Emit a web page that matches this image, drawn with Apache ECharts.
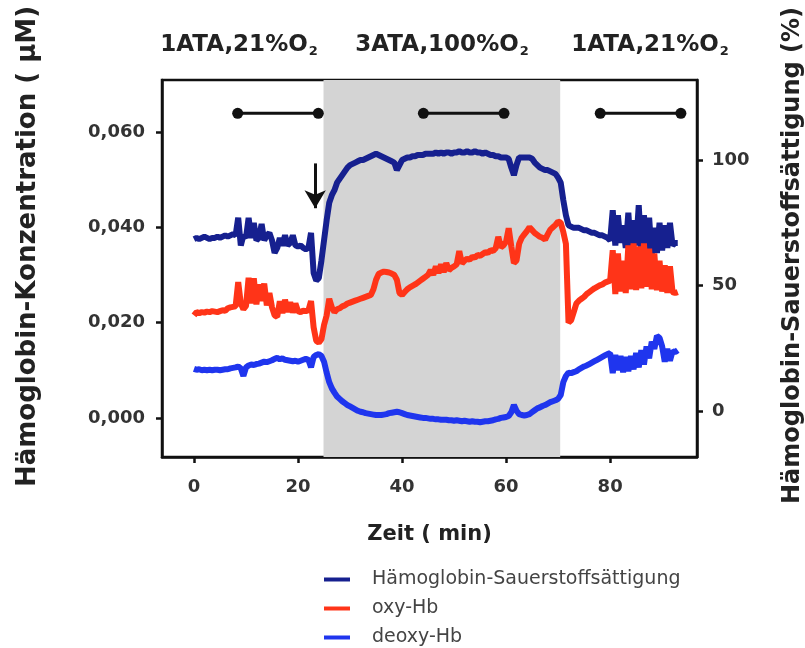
<!DOCTYPE html>
<html>
<head>
<meta charset="utf-8">
<script src="https://cdn.jsdelivr.net/npm/echarts@6/dist/echarts.min.js"></script>
<style>
html,body{margin:0;padding:0;background:#fff}
#chart{width:805px;height:648px}
</style>
</head>
<body>
<div id="chart"></div>
<script>
// Zeitachse (min), alle 0,5 min
var times = [
  0,0.5,1,1.5,2,2.5,3,3.5,4,4.5,
  5,5.5,6,6.5,7,7.5,8,8.5,9,9.5,
  10,10.5,11,11.5,12,12.5,13,13.5,14,14.5,
  15,15.5,16,16.5,17,17.5,18,18.5,19,19.5,
  20,20.5,21,21.5,22,22.5,23,23.5,24,24.5,
  25,25.5,26,26.5,27,27.5,28,28.5,29,29.5,
  30,30.5,31,31.5,32,32.5,33,33.5,34,34.5,
  35,35.5,36,36.5,37,37.5,38,38.5,39,39.5,
  40,40.5,41,41.5,42,42.5,43,43.5,44,44.5,
  45,45.5,46,46.5,47,47.5,48,48.5,49,49.5,
  50,50.5,51,51.5,52,52.5,53,53.5,54,54.5,
  55,55.5,56,56.5,57,57.5,58,58.5,59,59.5,
  60,60.5,61,61.5,62,62.5,63,63.5,64,64.5,
  65,65.5,66,66.5,67,67.5,68,68.5,69,69.5,
  70,70.5,71,71.5,72,72.5,73,73.5,74,74.5,
  75,75.5,76,76.5,77,77.5,78,78.5,79,79.5,
  80,80.5,81,81.5,82,82.5,83,83.5,84,84.5,
  85,85.5,86,86.5,87,87.5,88,88.5,89,89.5,
  90,90.5,91,91.5,92,92.5,93
];

// Hämoglobin-Sauerstoffsättigung (%)
var saettigung = [
  68.5,69,68.5,69,69.5,69,68.5,69,69,69.5,
  69,69.5,70,69.5,70,70.5,70,77,66,70,
  69,77,69,75,68,69,74.5,68,70,71,
  68,63,65,69,66,70,66,67,70,66,
  65.5,66,65,64.5,65,71,55,52,53,60,
  68,76,83,86,88,91,92.5,94,95.5,97,
  98,98.5,99,99.5,100,100,100.5,101,101.5,102,
  102.5,102,101.5,101,100.5,100,99.5,99,96,98,
  100,100.5,101,101,101.5,101.5,102,102,102,102.5,
  102.5,102.5,102.5,103,102.5,103,102.5,103,103,102.5,
  103,103,103.5,103,103,103.5,103,103,103.5,103,
  103,102.5,103,102.5,102,102,101.5,101.5,101,101,
  101,100.5,97,94,98,101,101,101,101,101,
  100.5,99,98,97,96.5,96,96,95.5,95,94.5,
  93,91,84,78,74,73.5,73,73,73,72.5,
  72,72,71.5,71,71,70.5,70,70,69.5,69,
  68,80,66,78,67,74,65,79,64,76,
  66,82,63,78,64,77,62,73,63,75,
  64,74,65,75,66,67,67
];

// oxy-Hb (µM)
var oxyHb = [
  0.0215,0.0222,0.0220,0.0222,0.0221,0.0223,0.0222,0.0224,0.0223,0.0222,
  0.0224,0.0226,0.0225,0.0230,0.0232,0.0233,0.0234,0.0285,0.0240,0.0228,
  0.0235,0.0294,0.0240,0.0293,0.0238,0.0280,0.0245,0.0282,0.0236,0.0262,
  0.0232,0.0215,0.0212,0.0245,0.0220,0.0248,0.0222,0.0243,0.0221,0.0240,
  0.0224,0.0222,0.0225,0.0224,0.0226,0.0245,0.0190,0.0162,0.0158,0.0165,
  0.0195,0.0215,0.0250,0.0232,0.0222,0.0228,0.0230,0.0234,0.0236,0.0240,
  0.0242,0.0244,0.0246,0.0248,0.0250,0.0252,0.0254,0.0256,0.0258,0.0270,
  0.0290,0.0302,0.0305,0.0307,0.0306,0.0305,0.0303,0.0300,0.0290,0.0262,
  0.0258,0.0264,0.0270,0.0274,0.0277,0.0280,0.0284,0.0288,0.0292,0.0296,
  0.0300,0.0310,0.0300,0.0318,0.0304,0.0322,0.0306,0.0325,0.0310,0.0315,
  0.0318,0.0322,0.0350,0.0324,0.0330,0.0334,0.0332,0.0338,0.0336,0.0342,
  0.0340,0.0344,0.0348,0.0346,0.0352,0.0350,0.0356,0.0380,0.0358,0.0362,
  0.0370,0.0398,0.0360,0.0325,0.0330,0.0365,0.0378,0.0385,0.0392,0.0400,
  0.0394,0.0388,0.0384,0.0380,0.0378,0.0374,0.0385,0.0395,0.0400,0.0405,
  0.0412,0.0410,0.0390,0.0365,0.0200,0.0205,0.0222,0.0240,0.0246,0.0250,
  0.0254,0.0260,0.0264,0.0268,0.0272,0.0275,0.0278,0.0280,0.0284,0.0286,
  0.0288,0.0352,0.0260,0.0345,0.0265,0.0330,0.0262,0.0362,0.0270,0.0366,
  0.0268,0.0360,0.0272,0.0366,0.0275,0.0355,0.0270,0.0345,0.0268,0.0330,
  0.0265,0.0320,0.0262,0.0318,0.0264,0.0262,0.0264
];

// deoxy-Hb (µM)
var deoxyHb = [
  0.0103,0.0101,0.0102,0.0100,0.0101,0.0100,0.0101,0.0100,0.0101,0.0101,
  0.0100,0.0101,0.0102,0.0102,0.0104,0.0105,0.0106,0.0108,0.0104,0.0088,
  0.0106,0.0110,0.0112,0.0111,0.0113,0.0114,0.0116,0.0118,0.0117,0.0119,
  0.0121,0.0124,0.0126,0.0123,0.0125,0.0122,0.0121,0.0120,0.0119,0.0120,
  0.0118,0.0120,0.0122,0.0124,0.0122,0.0106,0.0128,0.0132,0.0134,0.0130,
  0.0118,0.0095,0.0075,0.0062,0.0053,0.0045,0.0040,0.0035,0.0031,0.0027,
  0.0024,0.0021,0.0018,0.0015,0.0013,0.0012,0.0010,0.0009,0.0008,0.0007,
  0.0006,0.0006,0.0006,0.0007,0.0008,0.0010,0.0011,0.0012,0.0013,0.0012,
  0.0010,0.0008,0.0006,0.0005,0.0004,0.0003,0.0002,0.0001,0.0000,0.0000,
  -0.0001,-0.0002,-0.0002,-0.0003,-0.0003,-0.0004,-0.0004,-0.0004,-0.0005,-0.0005,
  -0.0006,-0.0005,-0.0006,-0.0007,-0.0006,-0.0007,-0.0008,-0.0007,-0.0008,-0.0008,
  -0.0009,-0.0008,-0.0007,-0.0007,-0.0006,-0.0005,-0.0003,-0.0002,0.0000,0.0001,
  0.0002,0.0004,0.0012,0.0027,0.0015,0.0008,0.0006,0.0005,0.0006,0.0008,
  0.0012,0.0016,0.0020,0.0022,0.0025,0.0027,0.0030,0.0033,0.0035,0.0037,
  0.0040,0.0048,0.0075,0.0088,0.0095,0.0094,0.0096,0.0098,0.0102,0.0105,
  0.0108,0.0110,0.0113,0.0116,0.0119,0.0122,0.0125,0.0128,0.0131,0.0134,
  0.0136,0.0094,0.0132,0.0100,0.0130,0.0096,0.0128,0.0098,0.0130,0.0102,
  0.0136,0.0106,0.0142,0.0112,0.0150,0.0125,0.0160,0.0145,0.0172,0.0168,
  0.0150,0.0118,0.0145,0.0120,0.0140,0.0138,0.0142
];

// Messintervalle (Hantel-Markierungen oben)
var messStart = [8.4, 44.1, 78.1];
var messEnde = [23.9, 59.6, 93.6];
var messHoehe = 0.0639;

// grau hinterlegte Phase 3ATA
var phaseStart = 24.9;
var phaseEnde = 70.4;

// Pfeil
var pfeilX = 23.3;
var pfeilOben = 0.0534;
var pfeilSpitze = 0.0440;

var phasen = ['1ATA,21%O', '3ATA,100%O', '1ATA,21%O'];
var phasenMitte = [234, 437, 645];

var xTicks = [0, 20, 40, 60, 80];
var yTicksLinks = [0, 0.02, 0.04, 0.06];
var yTicksRechts = [0, 50, 100];

var serienNamen = ['Hämoglobin-Sauerstoffsättigung', 'oxy-Hb', 'deoxy-Hb'];
var farben = ['#16208f', '#ff3418', '#1f35ee'];

var font = 'DejaVu Sans';

function paare(ys) {
  var arr = [];
  for (var i = 0; i < times.length; i++) {
    arr.push([times[i], ys[i]]);
  }
  return arr;
}

var hantelDaten = [];
for (var i = 0; i < messStart.length; i++) {
  hantelDaten.push([messStart[i], messHoehe]);
  hantelDaten.push([messEnde[i], messHoehe]);
  if (i < messStart.length - 1) hantelDaten.push('-');
}

var titel = [];
for (var i = 0; i < phasen.length; i++) {
  titel.push({
    text: phasen[i] + '{s|2}',
    left: phasenMitte[i],
    top: 27,
    textAlign: 'center',
    textStyle: {
      fontFamily: font,
      fontSize: 23,
      fontWeight: 'bold',
      color: '#222',
      rich: {
        s: { fontFamily: font, fontSize: 13, fontWeight: 'bold', color: '#222', padding: [13, 0, 0, 1] }
      }
    }
  });
}

var achsenLinie = { show: true, onZero: false, lineStyle: { color: '#111', width: 2.5 } };

var chart = echarts.init(document.getElementById('chart'));
var option = {
  animation: false,
  backgroundColor: '#fff',
  title: titel,
  legend: {
    data: serienNamen,
    orient: 'vertical',
    left: 324,
    top: 570,
    padding: 0,
    icon: 'rect',
    itemWidth: 26,
    itemHeight: 4,
    itemGap: 10,
    textStyle: { fontFamily: font, fontSize: 19, color: '#444', padding: [0, 0, 0, 17] }
  },
  grid: {
    left: 162, right: 108, top: 80, bottom: 191,
    outerBoundsMode: 'none',
    show: true, borderColor: '#111', borderWidth: 2.5
  },
  xAxis: {
    type: 'value',
    min: -6.15,
    max: 96.7,
    axisLine: achsenLinie,
    axisTick: { show: true, customValues: xTicks, length: 6, lineStyle: { color: '#111', width: 2.5 } },
    axisLabel: { customValues: xTicks, fontFamily: font, fontSize: 18, fontWeight: 'bold', color: '#333', margin: 21 },
    splitLine: { show: false },
    name: 'Zeit ( min)',
    nameLocation: 'middle',
    nameGap: 67,
    nameTextStyle: { fontFamily: font, fontSize: 21, fontWeight: 'bold', color: '#222' }
  },
  yAxis: [{
    type: 'value',
    position: 'left',
    min: -0.0082,
    max: 0.0709,
    axisLine: achsenLinie,
    axisTick: { show: true, customValues: yTicksLinks, length: 6, lineStyle: { color: '#111', width: 2.5 } },
    axisLabel: {
      customValues: yTicksLinks, fontFamily: font, fontSize: 18, fontWeight: 'bold', color: '#333', margin: 17,
      formatter: function (v) { return v.toFixed(3).replace('.', ','); }
    },
    splitLine: { show: false },
    name: 'Hämoglobin-Konzentration ( μM)',
    nameLocation: 'middle',
    nameRotate: 90,
    nameGap: 121,
    nameTextStyle: { fontFamily: font, fontSize: 26, fontWeight: 'bold', color: '#222', padding: [0, 0, 0, 44] }
  }, {
    type: 'value',
    position: 'right',
    min: -18.3,
    max: 131.9,
    axisLine: achsenLinie,
    axisTick: { show: true, customValues: yTicksRechts, length: 6, lineStyle: { color: '#111', width: 2.5 } },
    axisLabel: { customValues: yTicksRechts, fontFamily: font, fontSize: 18, fontWeight: 'bold', color: '#333', margin: 15 },
    splitLine: { show: false },
    name: 'Hämoglobin-Sauerstoffsättigung (%)',
    nameLocation: 'middle',
    nameRotate: 90,
    nameGap: 84,
    nameTextStyle: { fontFamily: font, fontSize: 24, fontWeight: 'bold', color: '#222', padding: [0, 0, 0, 26] }
  }],
  series: [{
    name: 'Messintervall',
    type: 'line',
    yAxisIndex: 0,
    data: hantelDaten,
    symbol: 'circle',
    symbolSize: 11,
    itemStyle: { color: '#111' },
    lineStyle: { color: '#111', width: 3 },
    silent: true,
    z: 1,
    markArea: {
      silent: true,
      itemStyle: { color: '#d4d4d4', opacity: 1 },
      data: [[{ xAxis: phaseStart }, { xAxis: phaseEnde }]]
    },
    markLine: {
      silent: true,
      symbol: ['none', 'arrow'],
      symbolSize: [16, 18],
      label: { show: false },
      lineStyle: { color: '#111', width: 3, type: 'solid' },
      data: [[{ coord: [pfeilX, pfeilOben] }, { coord: [pfeilX, pfeilSpitze] }]]
    }
  }, {
    name: serienNamen[0],
    type: 'line',
    yAxisIndex: 1,
    data: paare(saettigung),
    showSymbol: false,
    color: farben[0],
    lineStyle: { width: 6, color: farben[0] },
    z: 3
  }, {
    name: serienNamen[1],
    type: 'line',
    yAxisIndex: 0,
    data: paare(oxyHb),
    showSymbol: false,
    color: farben[1],
    lineStyle: { width: 6, color: farben[1] },
    z: 3
  }, {
    name: serienNamen[2],
    type: 'line',
    yAxisIndex: 0,
    data: paare(deoxyHb),
    showSymbol: false,
    color: farben[2],
    lineStyle: { width: 6, color: farben[2] },
    z: 3
  }]
};
chart.setOption(option);
</script>
</body>
</html>
